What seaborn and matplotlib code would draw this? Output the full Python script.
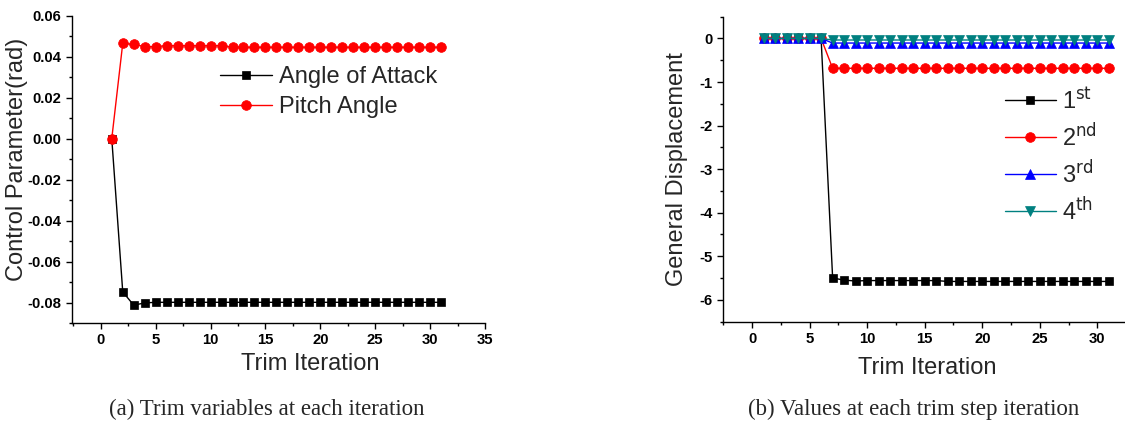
import matplotlib
matplotlib.use("Agg")
import matplotlib.pyplot as plt
from matplotlib.ticker import MultipleLocator, FormatStrFormatter
import seaborn as sns

iterations = list(range(1, 32))

angle_of_attack = [0.0, -0.0748, -0.0813, -0.0802] + [-0.0799] * 27
pitch_angle = ([0.0, 0.0465, 0.0460, 0.0449, 0.0449] + [0.0454] * 6 + [0.0446] * 20)

mode_1st = [0.0] * 6 + [-5.50, -5.55, -5.57] + [-5.56] * 7 + [-5.58] * 15
mode_2nd = [0.0] * 6 + [-0.685] * 25
mode_3rd = [0.0] * 6 + [-0.105] * 25
mode_4th = [0.0] * 6 + [-0.035] * 25

labels_a = ["Angle of Attack", "Pitch Angle"]
labels_b = [r"1$^{\rm st}$", r"2$^{\rm nd}$", r"3$^{\rm rd}$", r"4$^{\rm th}$"]
caption_a = "(a) Trim variables at each iteration"
caption_b = "(b) Values at each trim step iteration"

sns.set_style("ticks")
plt.rcParams["font.family"] = ["Liberation Sans", "DejaVu Sans"]
plt.rcParams["mathtext.default"] = "regular"
plt.rcParams["axes.unicode_minus"] = False

W, H = 1125.0, 428.0
fig = plt.figure(figsize=(11.25, 4.28), dpi=100)


def rect(x0, y0, x1, y1):
    return [x0 / W, 1 - y1 / H, (x1 - x0) / W, (y1 - y0) / H]


ax1 = fig.add_axes(rect(71.7, 15.7, 485, 323))
ax2 = fig.add_axes(rect(722.7, 16.7, 1125, 321.5))


def style_axis(ax):
    sns.despine(ax=ax)
    for s in ("left", "bottom"):
        ax.spines[s].set_linewidth(1.0)
        ax.spines[s].set_color("black")
    ax.tick_params(axis="both", which="major", direction="out", length=4.5,
                   width=1, colors="black", labelsize=10.7, pad=3)
    ax.tick_params(axis="both", which="minor", direction="out", length=2.5,
                   width=1, colors="black")
    for lab in ax.get_xticklabels() + ax.get_yticklabels():
        lab.set_fontweight("bold")
    ax.grid(False)


# Left panel
sns.lineplot(x=iterations, y=angle_of_attack, ax=ax1, color="black", marker="s",
             markersize=6, markeredgewidth=0.5, markeredgecolor="black",
             linewidth=1.0, label=labels_a[0])
sns.lineplot(x=iterations, y=pitch_angle, ax=ax1, color="#ff0000", marker="o",
             markersize=7, markeredgewidth=0.5, markeredgecolor="#ff0000",
             linewidth=1.0, label=labels_a[1])
ax1.set_xlim(-2.65, 35)
ax1.set_ylim(-0.09, 0.06)
ax1.xaxis.set_major_locator(MultipleLocator(5))
ax1.xaxis.set_minor_locator(MultipleLocator(2.5))
ax1.yaxis.set_major_locator(MultipleLocator(0.02))
ax1.yaxis.set_minor_locator(MultipleLocator(0.01))
ax1.yaxis.set_major_formatter(FormatStrFormatter("%.2f"))
ax1.set_xlabel("Trim Iteration", fontsize=17, x=0.577, labelpad=4)
ax1.set_ylabel("Control Parameter(rad)", fontsize=17)
ax1.yaxis.set_label_coords(-0.106, 0.534)
style_axis(ax1)
ax1.legend(loc="upper left", bbox_to_anchor=(220 / W, 1 - 66 / H),
           bbox_transform=fig.transFigure, frameon=False, fontsize=17,
           handlelength=2.2, handletextpad=0.3, labelspacing=0.35,
           borderaxespad=0, borderpad=0)

# Right panel
sns.lineplot(x=iterations, y=mode_1st, ax=ax2, color="black", marker="s",
             markersize=6, markeredgewidth=0.5, markeredgecolor="black",
             linewidth=1.0, label=labels_b[0])
sns.lineplot(x=iterations, y=mode_2nd, ax=ax2, color="#ff0000", marker="o",
             markersize=7, markeredgewidth=0.5, markeredgecolor="#ff0000",
             linewidth=1.0, label=labels_b[1])
sns.lineplot(x=iterations, y=mode_3rd, ax=ax2, color="#0000ff", marker="^",
             markersize=7, markeredgewidth=0.5, markeredgecolor="#0000ff",
             linewidth=1.0, label=labels_b[2])
sns.lineplot(x=iterations, y=mode_4th, ax=ax2, color="#008080", marker="v",
             markersize=7, markeredgewidth=0.5, markeredgecolor="#008080",
             linewidth=1.0, label=labels_b[3])
ax2.set_xlim(-2.55, 32.4)
ax2.set_ylim(-6.5, 0.5)
ax2.xaxis.set_major_locator(MultipleLocator(5))
ax2.xaxis.set_minor_locator(MultipleLocator(2.5))
ax2.yaxis.set_major_locator(MultipleLocator(1))
ax2.yaxis.set_minor_locator(MultipleLocator(0.5))
ax2.set_xlabel("Trim Iteration", fontsize=17, x=0.508, labelpad=8)
ax2.set_ylabel("General Displacement", fontsize=17)
ax2.yaxis.set_label_coords(-0.086, 0.5)
style_axis(ax2)
ax2.legend(loc="upper left", bbox_to_anchor=(1005 / W, 1 - 88 / H),
           bbox_transform=fig.transFigure, frameon=False, fontsize=17,
           handlelength=2.15, handletextpad=0.25, labelspacing=0.38,
           borderaxespad=0, borderpad=0)

fig.text(267 / W, 1 - 409 / H, caption_a, ha="center", va="center", fontsize=16.5,
         family=["Liberation Serif", "DejaVu Serif"])
fig.text(914 / W, 1 - 409 / H, caption_b, ha="center", va="center", fontsize=16.5,
         family=["Liberation Serif", "DejaVu Serif"])

fig.savefig("out.png", dpi=100)
